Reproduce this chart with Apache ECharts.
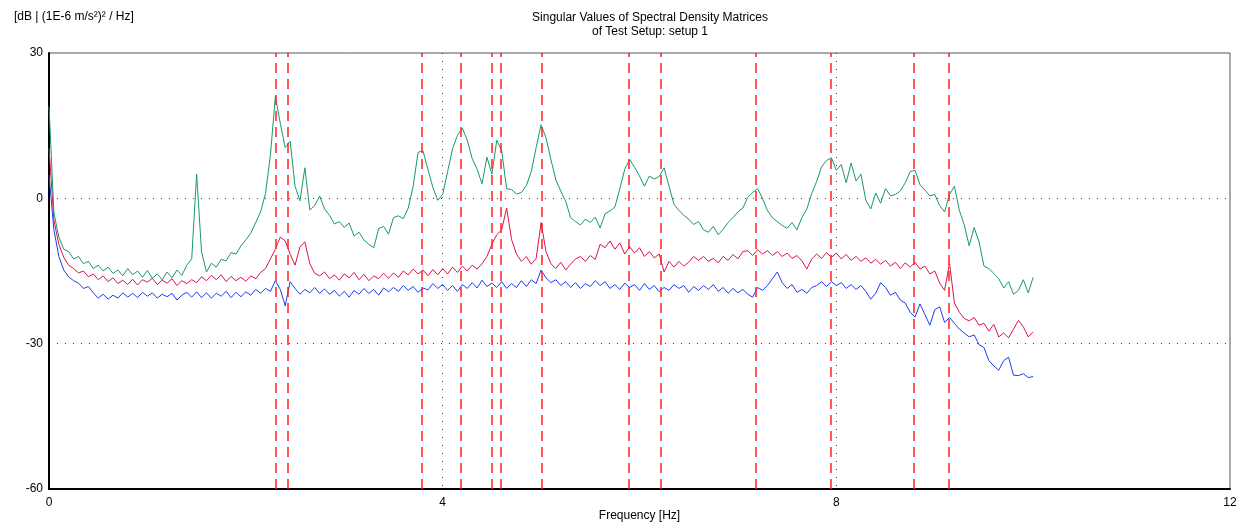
<!DOCTYPE html>
<html>
<head>
<meta charset="utf-8">
<script src="https://cdn.jsdelivr.net/npm/echarts@6/dist/echarts.min.js"></script>
<style>
html, body { margin: 0; padding: 0; background: #fff; }
#chart { width: 1245px; height: 523px; }
</style>
</head>
<body>
<div id="chart"></div>
<script>
// frequency step of the spectra [Hz]
var freqStep = 0.05;

// singular values [dB], one value per frequency line, 0 .. 10 Hz
var sv1 = [19, -3, -8, -10.5, -11, -12.5, -12, -13.5, -13, -14.5,
	-13.8, -15, -14.2, -15.5, -14.8, -16, -14.5, -15.8, -15, -16.3,
	-14.9, -16.5, -15.6, -16.8, -15.2, -16.4, -14.8, -15.9, -13.8, -12.5,
	5.0, -11, -15.2, -13.4, -14.2, -12.6, -12.9, -11.2, -11.5, -9.8,
	-8.6, -7.2, -5.0, -2.8, 1.0, 9.0, 21.0, 15.5, 10.5, 11.8,
	2.5, -0.5, 6.3, -2.4, -1.5, 0.5, -2.2, -3.5, -5.3, -4.8,
	-6.0, -5.1, -7.8, -7.0, -8.6, -9.5, -10.2, -6.2, -5.8, -7.4,
	-4.0, -3.6, -4.2, -2.0, 2.5, 9.5, 9.8, 6.0, 2.3, -0.4,
	0.8, 5.5, 10.2, 13.0, 14.5, 12.0, 8.2, 6.0, 3.0, 8.5,
	5.0, 12.0, 9.8, 2.0, 1.8, 0.9, 1.2, 2.6, 5.5, 10.5,
	15.2, 12.5, 8.0, 3.8, 1.5, -0.6, -4.0, -4.8, -5.5, -4.3,
	-5.0, -3.9, -6.1, -3.2, -2.6, -1.8, 2.0, 6.0, 8.0, 6.4,
	4.6, 2.5, 4.6, 4.0, 4.5, 6.3, 2.5, -1.2, -2.5, -3.5,
	-4.3, -5.4, -4.8, -6.5, -7.0, -5.8, -7.5, -6.4, -5.0, -4.0,
	-2.8, -2.0, 0.2, 1.2, 2.0, 0.0, -2.5, -4.0, -4.8, -5.6,
	-6.2, -5.0, -6.5, -4.0, -2.2, 1.0, 3.5, 6.5, 7.8, 8.4,
	5.8, 7.0, 3.2, 7.3, 3.6, 5.0, -0.4, -2.2, 1.1, -1.0,
	2.0, 0.5, 0.8, 1.5, 3.2, 5.5, 5.8, 2.8, 1.7, 0.5,
	0.8, -1.5, -2.8, 0.8, 2.5, -2.5, -5.5, -9.8, -6.0, -9.0,
	-14.0, -14.5, -15.5, -16.6, -18.5, -17.2, -19.8, -19.0, -16.8, -19.5,
	-16.3];

var sv2 = [10.4, -4.5, -9.5, -12.2, -13.8, -14.5, -15.4, -15.0, -16.2, -15.6,
	-16.8, -16.0, -17.2, -16.4, -17.6, -16.9, -17.8, -16.7, -17.9, -16.8,
	-17.3, -16.5, -17.8, -16.9, -17.5, -16.6, -18.0, -17.0, -17.6, -16.8,
	-17.4, -16.2, -17.0, -15.9, -16.8, -15.8, -17.2, -16.1, -17.0, -16.3,
	-17.1, -16.0, -16.6, -15.3, -14.5, -12.5, -10.5, -8.0, -8.8, -11.5,
	-13.8, -10.0, -9.0, -13.5, -15.5, -16.0, -15.2, -16.6, -15.8, -16.9,
	-15.6, -16.4, -15.3, -16.8, -15.7, -17.0, -16.0, -16.6, -15.5, -16.5,
	-15.4, -16.3, -15.0, -15.8, -14.6, -15.6, -14.8, -16.0, -14.7, -15.8,
	-14.5, -15.6, -14.2, -15.3, -14.0, -15.0, -13.8, -14.6, -13.5, -12.0,
	-9.5, -7.5, -6.5, -2.0, -8.5, -11.5, -13.0, -12.0, -13.6, -12.4,
	-5.0, -11.0, -13.5, -14.5, -13.2, -14.8, -13.6, -12.5, -12.0, -13.0,
	-11.8, -12.6, -9.5, -10.2, -8.8, -10.5, -9.2, -11.5, -10.0, -11.3,
	-10.2, -12.0, -11.0, -12.3, -11.5, -15.2, -13.0, -14.2, -13.0, -14.0,
	-13.2, -12.0, -12.8, -12.0, -13.0, -12.4, -13.3, -12.0, -12.8, -11.6,
	-12.5, -11.0, -10.8, -11.8, -10.6, -11.5, -10.8, -11.8, -11.0, -12.0,
	-11.3, -12.4, -11.8, -12.9, -14.6, -12.5, -11.5, -12.4, -11.2, -12.2,
	-11.3, -12.5, -11.6, -12.8, -12.0, -13.0, -12.3, -13.4, -12.6, -13.6,
	-12.8, -14.0, -13.2, -14.5, -13.3, -14.2, -13.2, -14.6, -14.0, -15.6,
	-15.0, -17.5, -19.0, -13.4, -21.6, -23.5, -24.8, -25.3, -24.6, -26.2,
	-25.8, -27.4, -26.0, -28.6, -27.8, -28.8, -27.0, -25.2, -26.5, -28.6,
	-27.6];

var sv3 = [4.8, -6.5, -12.0, -14.8, -16.2, -17.0, -17.5, -18.6, -18.2, -19.5,
	-20.6, -19.8, -20.8, -20.0, -20.6, -19.5, -20.4, -19.6, -20.5, -19.4,
	-20.2, -19.5, -20.6, -19.8, -20.3, -19.6, -21.0, -20.0, -19.4, -20.4,
	-19.3, -20.5, -19.5, -20.6, -19.6, -20.2, -19.2, -20.5, -19.4, -20.3,
	-19.3, -20.0, -18.8, -19.6, -18.6, -19.2, -17.0, -18.8, -22.2, -17.2,
	-18.6, -19.8, -18.8, -19.5, -18.4, -19.6, -18.7, -19.8, -19.0, -20.2,
	-19.2, -20.4, -19.0, -19.8, -18.6, -19.6, -18.8, -20.0, -18.5, -19.3,
	-18.4, -19.2, -18.0, -19.0, -18.2, -19.4, -18.5, -18.9, -17.6, -18.6,
	-17.8, -19.0, -18.0, -19.2, -17.8, -18.6, -17.4, -18.5, -16.9, -18.2,
	-17.5, -18.4, -17.2, -18.6, -17.6, -18.4, -17.0, -18.2, -16.8, -17.6,
	-14.8, -16.4, -17.4, -16.8, -18.0, -17.2, -18.4, -17.4, -18.6, -17.6,
	-18.2, -17.0, -18.0, -17.2, -18.6, -17.8, -18.8, -17.5, -18.4, -17.8,
	-19.0, -17.6, -18.8, -18.0, -19.3, -18.4, -19.0, -17.8, -18.6, -18.0,
	-19.4, -18.2, -19.0, -18.0, -18.8, -17.8, -19.2, -18.4, -19.6, -18.6,
	-19.5, -18.8, -19.8, -20.4, -18.4, -19.0, -18.0, -16.6, -15.2, -17.4,
	-18.6, -17.8, -19.4, -18.8, -19.6, -18.4, -18.0, -17.2, -18.2, -17.2,
	-18.0, -17.4, -18.6, -17.8, -18.8, -18.0, -19.2, -20.8, -19.6, -17.4,
	-18.4, -20.0, -19.4, -21.0, -21.6, -23.5, -24.5, -21.8, -24.0, -26.2,
	-23.0, -22.4, -25.6, -24.6, -25.8, -27.0, -27.8, -28.6, -28.2, -30.2,
	-30.8, -33.5, -34.6, -35.5, -33.5, -32.8, -36.5, -36.6, -36.2, -37.0,
	-36.8];

// identified modes [Hz]
var peakFreqs = [2.30, 2.43, 3.79, 4.18, 4.50, 4.59, 5.01, 5.89, 6.22, 7.18, 7.94, 8.79, 9.14];

var xTicks = [0, 4, 8, 12];
var yTicks = [-60, -30, 0, 30];

function toPairs(list) {
	var out = [];
	for (var i = 0; i < list.length; i++) {
		out.push([+(i * freqStep).toFixed(2), list[i]]);
	}
	return out;
}

var chart = echarts.init(document.getElementById('chart'), null, { renderer: 'canvas' });

var font = 'Arial, "Liberation Sans", sans-serif';
var dotted = { color: '#444', width: 1, type: [1, 7] };

var option = {
	animation: false,
	backgroundColor: '#fff',
	textStyle: { fontFamily: font },
	title: [{
		text: 'Singular Values of Spectral Density Matrices\nof Test Setup: setup 1',
		left: 645, top: 6,
		textAlign: 'center',
		textStyle: { fontSize: 12, fontWeight: 'normal', color: '#000', lineHeight: 14, fontFamily: font }
	}, {
		text: '[dB | (1E-6 m/s²)² / Hz]',
		left: 9, top: 6,
		textStyle: { fontSize: 12, fontWeight: 'normal', color: '#000', fontFamily: font }
	}],
	grid: {
		left: 49, right: 15, top: 53, bottom: 34,
		containLabel: false, outerBoundsMode: 'none',
		show: true, borderColor: '#555', borderWidth: 1
	},
	xAxis: {
		type: 'value', min: xTicks[0], max: xTicks[xTicks.length - 1], interval: 4,
		name: 'Frequency [Hz]', nameLocation: 'middle', nameGap: 21, nameMoveOverlap: false,
		nameTextStyle: { fontSize: 12, color: '#000', verticalAlign: 'top' },
		axisLine: { onZero: false, lineStyle: { color: '#000', width: 2 } },
		axisTick: { show: false },
		axisLabel: { color: '#000', fontSize: 12, margin: 8 },
		splitLine: { show: true, lineStyle: dotted, showMinLine: false, showMaxLine: false }
	},
	yAxis: {
		type: 'value', min: yTicks[0], max: yTicks[yTicks.length - 1], interval: 30,
		axisLine: { show: true, onZero: false, lineStyle: { color: '#000', width: 2 } },
		axisTick: { show: false },
		axisLabel: { color: '#000', fontSize: 12, margin: 6 },
		splitLine: { show: true, lineStyle: dotted, showMinLine: false, showMaxLine: false }
	},
	series: [{
		name: 'SV3', type: 'line', data: toPairs(sv3), showSymbol: false,
		lineStyle: { color: '#1e3cf0', width: 1 }
	}, {
		name: 'SV2', type: 'line', data: toPairs(sv2), showSymbol: false,
		lineStyle: { color: '#dc1444', width: 1 }
	}, {
		name: 'SV1', type: 'line', data: toPairs(sv1), showSymbol: false,
		lineStyle: { color: '#18996e', width: 1 },
		markLine: {
			silent: true, symbol: 'none', label: { show: false },
			lineStyle: { color: '#ff2020', width: 1.5, type: [10, 6] },
			data: peakFreqs.map(function(f) { return { xAxis: f }; })
		}
	}]
};

chart.setOption(option);
</script>
</body>
</html>
